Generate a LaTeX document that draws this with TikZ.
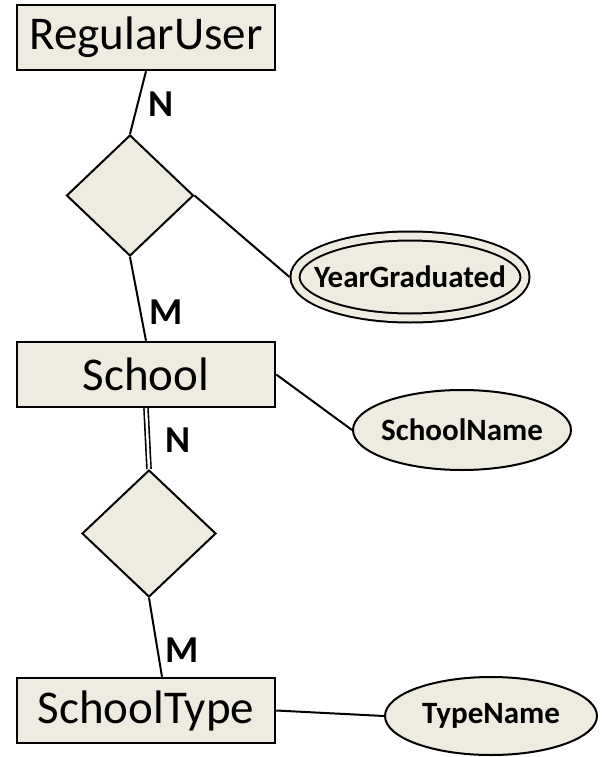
\documentclass[tikz,border=0pt]{standalone}
\usepackage{fontspec}
\setmainfont{Carlito}
\usetikzlibrary{shapes.geometric}
\definecolor{erfill}{HTML}{EEECE1}
\tikzset{
  entity/.style={draw, line width=2.5pt, fill=erfill, minimum width=258pt, minimum height=65pt, inner sep=0pt, font=\fontsize{47}{50}\selectfont},
  relation/.style={diamond, draw, line width=2pt, fill=erfill, inner sep=0pt},
  attr/.style={ellipse, draw, line width=2pt, fill=erfill, inner sep=0pt, font=\bfseries\fontsize{31}{34}\selectfont},
  card/.style={font=\bfseries\fontsize{38}{40}\selectfont, inner sep=0pt}
}
\begin{document}
\begin{tikzpicture}[x=1pt, y=-1pt, line width=2pt]
   \useasboundingbox (0,0) rectangle (606,757);
   % Entities
   \node[entity] (user) at (146,37.5) {RegularUser};
   \node[entity] (school) at (146,374.5) {School};
   \node[entity] (type) at (146,710.5) {SchoolType};

   % Relationships
   \node[relation, minimum width=127pt, minimum height=121pt] (attends) at (130,195.5) {};
   \node[relation, minimum width=134pt, minimum height=127pt] (hastype) at (149,533.5) {};

   % Attributes
   \node[attr, double=erfill, double distance=7pt, outer sep=5.5pt, inner xsep=-17pt, minimum width=230pt, minimum height=82pt] (year) at (410,277) {YearGraduated};
   \node[attr, inner xsep=-6pt, minimum width=218pt, minimum height=80pt] (sname) at (462,430) {SchoolName};
   \node[attr, minimum width=212pt, minimum height=78pt] (tname) at (491,716) {TypeName};

   % Connectors
   \draw (user.south) -- (attends.north);
   \draw (attends.south) -- (school.north);
   \draw (attends.east) -- (year.west);
   \draw (school.east) -- (sname.west);
   \draw[line width=1.6pt, double, double distance=2.5pt] (school.south) -- (hastype.north);
   \draw (hastype.south) -- ([xshift=16pt]type.north);
   \draw (type.east) -- (tname.west);

   % Cardinalities
   \node[card] (n1) at (161,104) {N};
   \node[card] (m1) at (166,312) {M};
   \node[card] (n2) at (178,440) {N};
   \node[card] (m2) at (182,650) {M};
\end{tikzpicture}
\end{document}
